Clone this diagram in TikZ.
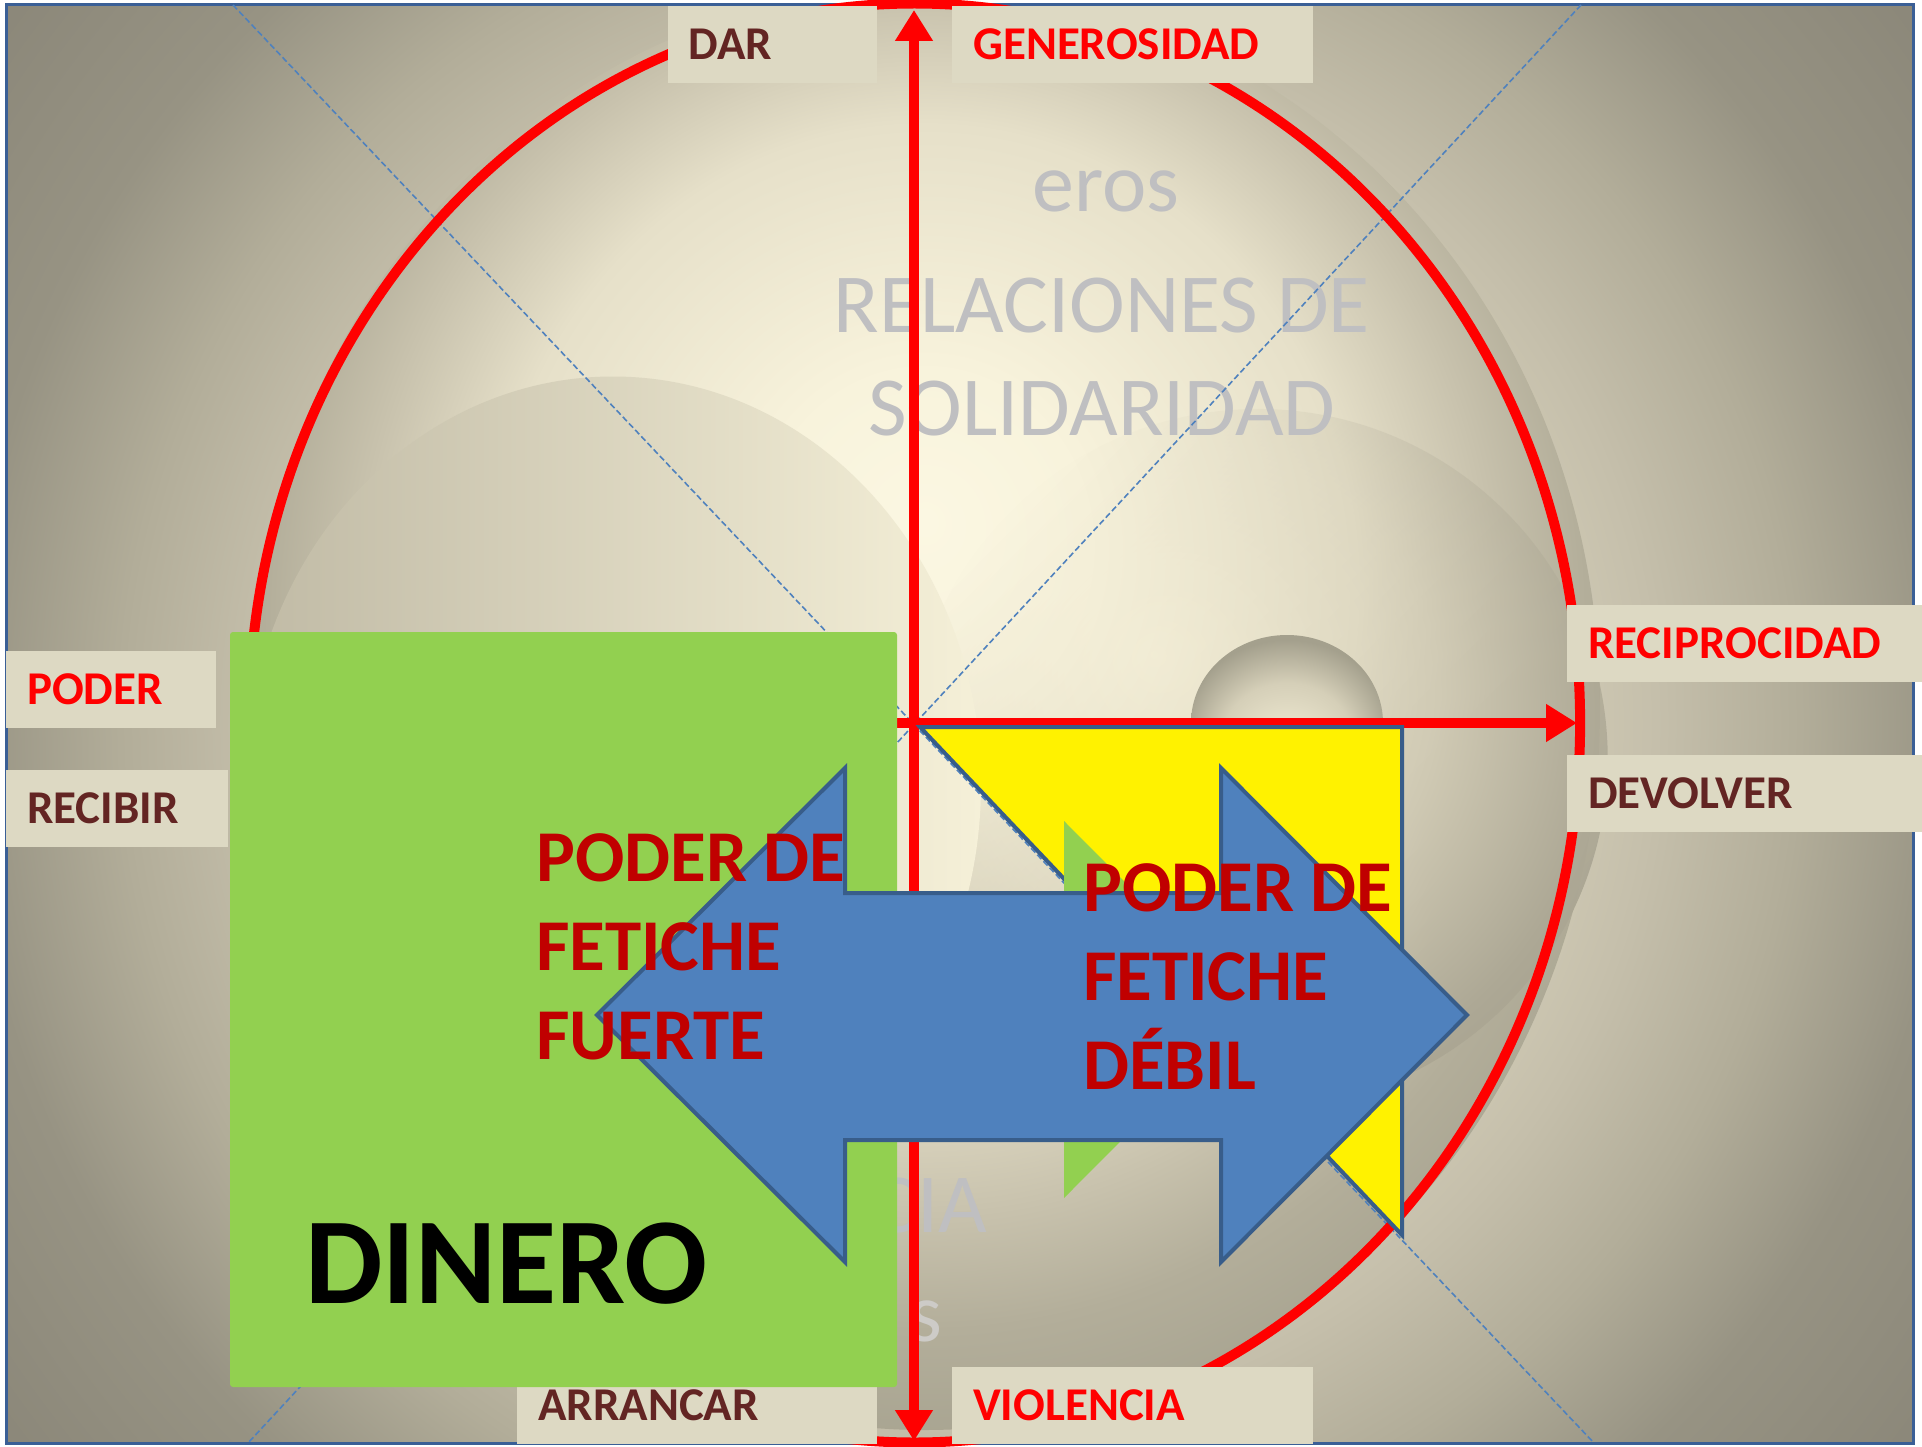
\documentclass[tikz,border=0pt]{standalone}
\usepackage{fontspec}
\setmainfont{Carlito}
\usetikzlibrary{arrows.meta,fadings}
\definecolor{boxfill}{HTML}{DDD9C3}
\definecolor{lblbrown}{HTML}{632523}
\definecolor{lblred}{HTML}{FF0000}
\definecolor{fetred}{HTML}{C00000}
\definecolor{greenbox}{HTML}{92D050}
\definecolor{arrowblue}{HTML}{4F81BD}
\definecolor{arrowborder}{HTML}{385D8A}
\definecolor{dashblue}{HTML}{4F81BD}
\definecolor{graytxt}{HTML}{BFBFC1}
\definecolor{frameblue}{HTML}{3A5F96}
\definecolor{bgA}{HTML}{F6F1D9}
\definecolor{bgB}{HTML}{DCD6BF}
\definecolor{bgC}{HTML}{C5BFAB}
\definecolor{bgD}{HTML}{B2AD99}
\definecolor{bgE}{HTML}{979383}
\definecolor{bgF}{HTML}{8B8779}
\definecolor{dA}{HTML}{FBF7E2}
\definecolor{dB}{HTML}{F8F3DC}
\definecolor{dC}{HTML}{E6E0C9}
\definecolor{dD}{HTML}{C8C2AD}
\definecolor{dE}{HTML}{B3AE9A}
\definecolor{dF}{HTML}{A8A491}
\definecolor{bulL}{HTML}{C0BAA5}
\definecolor{bulM}{HTML}{D3CDB6}
\definecolor{bulR}{HTML}{F5F0D8}
\definecolor{rcA}{HTML}{F0EAD2}
\definecolor{rcB}{HTML}{CFC9B3}
\definecolor{rcC}{HTML}{ADA895}
\definecolor{rcD}{HTML}{9A9685}
\definecolor{doA}{HTML}{F7F2DA}
\definecolor{doB}{HTML}{D5CFB8}
\definecolor{doC}{HTML}{A4A08D}
% radial shadings: 25bp = edge of the shaded path
\pgfdeclareradialshading{bgshade}{\pgfpoint{0bp}{0bp}}{color(0bp)=(bgA); color(10bp)=(bgB); color(14.5bp)=(bgC); color(17.5bp)=(bgD); color(20.75bp)=(bgE); color(25bp)=(bgF); color(40bp)=(bgF)}
\pgfdeclareradialshading{discshade}{\pgfpoint{0bp}{6.5bp}}{color(0bp)=(dA); color(6bp)=(dB); color(16bp)=(dC); color(21bp)=(dD); color(24.5bp)=(dE); color(28bp)=(dF); color(45bp)=(dF)}
\pgfdeclareradialshading{rcshade}{\pgfpoint{-7.5bp}{7.5bp}}{color(0bp)=(rcA); color(17.5bp)=(rcB); color(27.5bp)=(rcC); color(37.5bp)=(rcD); color(45bp)=(rcD)}
\pgfdeclareradialshading{domeshade}{\pgfpoint{0bp}{-10bp}}{color(0bp)=(doA); color(17.5bp)=(doB); color(27.5bp)=(doC); color(45bp)=(doC)}
\tikzset{
  lblbox/.style={fill=boxfill, draw=none, anchor=north west, inner xsep=21pt, inner ysep=0pt,
    minimum height=77pt, text height=30pt, text depth=0pt, align=left,
    font=\fontsize{47}{50}\selectfont\bfseries},
  grayt/.style={text=graytxt, font=\fontsize{84}{90}\selectfont, inner sep=0pt},
  fet/.style={text=fetred, font=\fontsize{73}{89}\selectfont\bfseries, align=left, inner sep=0pt, anchor=north west},
  redline/.style={draw=lblred, line width=10pt},
  redtip/.style={arrows={-Triangle[length=31pt,width=36pt]}},
  dashline/.style={draw=dashblue, line width=1.6pt, dash pattern=on 6pt off 3pt},
  bordered/.style={draw=arrowborder, line width=4pt, line join=miter},
}
\begin{document}
\begin{tikzpicture}[x=1pt,y=-1pt]
\useasboundingbox (0,0) rectangle (1922,1447);
% background
\begin{scope}
  \clip (6,5) rectangle (1913,1443);
  \shade[shading=bgshade] (960,724) circle [radius=1200];
  \shade[shading=discshade] (925,708) ellipse [x radius=675, y radius=722];
  \shade[shading=rcshade, path fading=north, fading angle=45] (1258,758) circle [radius=350];
  \shade[left color=bulL, middle color=bulM, right color=bulR] (613,784.5) ellipse [x radius=368, y radius=408];
  \shade[shading=domeshade] (1287,723) ellipse [x radius=96, y radius=88];
\end{scope}
\draw[frameblue, line width=3pt] (6,5) rectangle (1913,1443);
% faint background texts
\node[grayt, anchor=base] (eros) at (1106,212) {eros};
\node[grayt, anchor=base] (rel) at (1102,333) {RELACIONES DE};
\node[grayt, anchor=base] (sol) at (1102,435) {SOLIDARIDAD};
\node[grayt, anchor=base east] (cia) at (987,1232) {CIA};
\node[grayt, anchor=base east, text=graytxt!75!bulR] (sfrag) at (943,1341) {s};
% dashed diagonals
\coordinate (d1a) at (233,5);
\coordinate (d1b) at (1594,1443);
\coordinate (d2a) at (1581,5);
\coordinate (d2b) at (248,1443);
\draw[dashline] (d1a) -- (d1b);
\draw[dashline] (d2a) -- (d2b);
% red ellipse
\coordinate (cc) at (914.5,723);
\draw[redline] (cc) ellipse [x radius=665.6, y radius=719.5];
% labels
\node[lblbox, text=lblbrown, text width=167.5pt] (dar) at (667.5,5.5) {DAR};
\node[lblbox, text=lblred, text width=319pt] (gen) at (952,5.5) {GENEROSIDAD};
\node[lblbox, text=lblred, text width=313pt] (reci) at (1567,605) {RECIPROCIDAD};
\node[lblbox, text=lblbrown, text width=313pt] (devo) at (1567,755) {DEVOLVER};
\node[lblbox, text=lblred, text width=168pt] (poder) at (6,650.5) {PODER};
\node[lblbox, text=lblbrown, text width=180pt] (recib) at (6,770) {RECIBIR};
\node[lblbox, text=lblbrown, text width=318pt] (arran) at (517,1367) {ARRANCAR};
\node[lblbox, text=lblred, text width=319pt] (viol) at (952,1367) {VIOLENCIA};
% red axes
\coordinate (vtop) at (914,10);
\coordinate (vbot) at (914,1441);
\coordinate (vmid) at (914,723);
\coordinate (hl) at (897,723);
\coordinate (hr) at (1577,723);
\draw[redline, redtip] (vmid) -- (vtop);
\draw[redline, redtip] (vmid) -- (vbot);
\draw[redline, redtip] (hl) -- (hr);
% yellow triangle and green arrowhead
\draw[bordered, fill=yellow] (920,727) -- (1402,727) -- (1402,1235) -- cycle;
\fill[greenbox] (1064,821) -- (1252,1009.5) -- (1064,1198) -- cycle;
% green box
\fill[greenbox, rounded corners=3pt] (230,632) rectangle (897,1387);
% blue double arrow
\draw[bordered, fill=arrowblue] (597,1015) -- (845,768) -- (845,893) -- (1221,893) -- (1221,768)
  -- (1467,1015) -- (1221,1262) -- (1221,1140) -- (845,1140) -- (845,1262) -- cycle;
% texts
\node[fet] (fuerte) at (536,833) {PODER DE\\FETICHE\\FUERTE};
\node[fet] (debil) at (1083,863) {PODER DE\\FETICHE\\DÉBIL};
\node[anchor=base west, inner sep=0pt, font=\fontsize{123}{130}\selectfont\bfseries] (dinero) at (305,1303) {DINERO};
\end{tikzpicture}
\end{document}
